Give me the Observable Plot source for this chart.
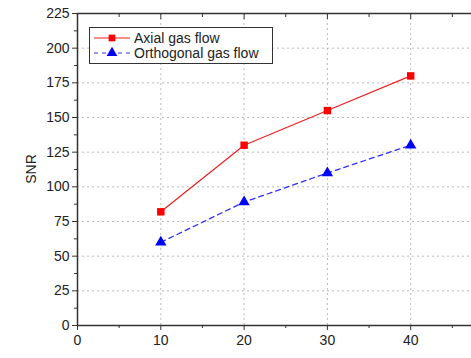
<!DOCTYPE html>
<html>
<head>
<meta charset="utf-8">
<script src="https://cdn.jsdelivr.net/npm/d3@7"></script>
<script src="https://cdn.jsdelivr.net/npm/@observablehq/plot@0.6"></script>
<style>
body { margin: 0; background: #fff; font-family: "Liberation Sans", Arial, sans-serif; }
#wrap { position: relative; width: 471px; height: 358px; }
#legend { position: absolute; left: 89px; top: 27px; width: 184px; height: 37px; border: 1px solid #333; background: #fff; font-size: 14px; color: #222; box-sizing: border-box; }
#legend .row { position: absolute; left: 0; height: 16px; display: flex; align-items: center; }
#legend svg { margin-left: 4px; margin-right: 4px; }
</style>
</head>
<body>
<div id="wrap"></div>
<script>
const gasFlow = [10, 20, 30, 40];
const axialSNR = [82, 130, 155, 180];
const orthogonalSNR = [60, 89, 110, 130];
const seriesNames = ["Axial gas flow", "Orthogonal gas flow"];
const yMajorTicks = [0, 25, 50, 75, 100, 125, 150, 175, 200, 225];
const yMinorTicks = [12.5, 37.5, 62.5, 87.5, 112.5, 137.5, 162.5, 187.5, 212.5];
const xMajorTicks = [0, 10, 20, 30, 40];
const xMinorTicks = [5, 15, 25, 35, 45];
const yGrid = [25, 50, 75, 100, 125, 150, 175, 200];
const xGrid = [10, 20, 30, 40];

const axial = gasFlow.map((x, i) => ({x, y: axialSNR[i]}));
const ortho = gasFlow.map((x, i) => ({x, y: orthogonalSNR[i]}));
const axisColor = "#333";

const chart = Plot.plot({
  width: 471,
  height: 358,
  marginLeft: 77,
  marginTop: 13,
  marginBottom: 33,
  marginRight: 0,
  style: {fontFamily: "'Liberation Sans', Arial, sans-serif", fontSize: "14px", color: "#222", background: "#fff"},
  x: {domain: [0, 47.3]},
  y: {domain: [0, 225]},
  marks: [
    Plot.gridY(yGrid, {stroke: "#aaa", strokeOpacity: 1, strokeDasharray: "2,3", strokeWidth: 0.8}),
    Plot.gridX(xGrid, {stroke: "#aaa", strokeOpacity: 1, strokeDasharray: "2,3", strokeWidth: 0.8}),
    Plot.axisY(yMajorTicks, {tickSize: 5, tickPadding: 3, stroke: axisColor, label: null, fontSize: 14}),
    Plot.axisY(yMinorTicks, {tickSize: 3, text: null, stroke: axisColor, label: null}),
    Plot.axisX(xMajorTicks, {tickSize: 5, tickPadding: 5, stroke: axisColor, label: null, fontSize: 14}),
    Plot.axisX(xMinorTicks, {tickSize: 3, text: null, stroke: axisColor, label: null}),
    Plot.axisX(xMajorTicks, {anchor: "top", tickSize: -5, text: null, stroke: axisColor, label: null}),
    Plot.axisX(xMinorTicks, {anchor: "top", tickSize: -3, text: null, stroke: axisColor, label: null}),
    Plot.ruleX([0], {stroke: axisColor, strokeWidth: 1.5}),
    Plot.ruleY([0], {stroke: axisColor, strokeWidth: 1.5}),
    Plot.ruleY([225], {stroke: axisColor, strokeWidth: 1.5}),
    Plot.line(axial, {x: "x", y: "y", stroke: "#f02020", strokeWidth: 1.2}),
    Plot.line(ortho, {x: "x", y: "y", stroke: "#3030ff", strokeWidth: 1.3, strokeDasharray: "5,4"}),
    Plot.dot(axial, {x: "x", y: "y", symbol: "square", r: 4.2, fill: "#ff0000", stroke: "none"}),
    Plot.dot(ortho, {x: "x", y: "y", symbol: "triangle", r: 4.2, fill: "#0000ff", stroke: "none"})
  ]
});

const wrap = document.getElementById("wrap");
wrap.appendChild(chart);

// y axis title
const svg = d3.select(chart);
svg.append("text")
  .attr("transform", "translate(36,169) rotate(-90)")
  .attr("text-anchor", "middle")
  .attr("font-size", 14)
  .attr("fill", "#222")
  .text("SNR");

// legend
const legend = document.createElement("div");
legend.id = "legend";
const styles = [
  {stroke: "#f02020", dash: null, sym: "square", fill: "#ff0000"},
  {stroke: "#3030ff", dash: "4,4", sym: "triangle", fill: "#0000ff"}
];
seriesNames.forEach((name, i) => {
  const row = document.createElement("div");
  row.className = "row";
  row.style.top = (i === 0 ? 2 : 17) + "px";
  const s = styles[i];
  const sym = d3.symbol(s.sym === "square" ? d3.symbolSquare : d3.symbolTriangle, s.sym === "square" ? 45 : 50)();
  row.innerHTML = `<svg width="36" height="14"><line x1="0" x2="36" y1="7" y2="7" stroke="${s.stroke}" stroke-width="1.2" ${s.dash ? `stroke-dasharray="${s.dash}"` : ""}/><path d="${sym}" transform="translate(18,7)" fill="${s.fill}"/></svg><span>${name}</span>`;
  legend.appendChild(row);
});
wrap.appendChild(legend);
</script>
</body>
</html>
